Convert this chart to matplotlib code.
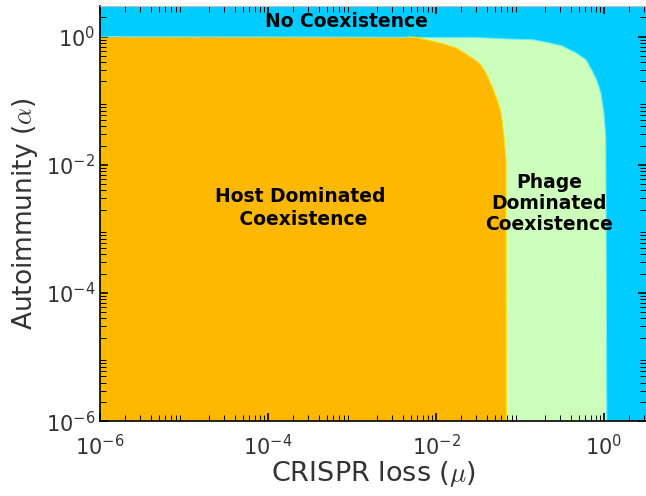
'''
Phase diagram of host / phage coexistence vs CRISPR loss and autoimmunity
'''
import matplotlib
matplotlib.use('Agg')
import matplotlib.pyplot as plt
from matplotlib.ticker import LogLocator, NullFormatter

plt.rcParams['mathtext.fontset'] = 'cm'
plt.rcParams['axes.unicode_minus'] = False

# axis range
mu_min, mu_max = 1e-6, 10**0.5
alpha_min, alpha_max = 1e-6, 10**0.48

# boundary host dominated / phage dominated
host_mu = [1e-6, 4.8e-3, 6.3e-3, 8.3e-3, 1.19e-2, 1.74e-2, 2.48e-2, 3.26e-2,
           3.94e-2, 4.65e-2, 5.33e-2, 5.95e-2, 6.45e-2, 6.8e-2, 6.85e-2]
host_alpha = [1.0, 1.0, 0.955, 0.875, 0.78, 0.67, 0.50, 0.39,
              0.27, 0.166, 0.104, 0.065, 0.027, 0.012, 1e-6]

# boundary phage dominated / no coexistence
phage_mu = [1e-6, 0.03, 0.074, 0.139, 0.221, 0.315, 0.462, 0.608,
            0.716, 0.82, 0.916, 0.995, 1.05, 1.08]
phage_alpha = [1.0, 0.97, 0.92, 0.90, 0.805, 0.72, 0.56, 0.44,
               0.30, 0.21, 0.133, 0.065, 0.027, 1e-6]

c_none = '#00CCFF'
c_phage = '#CCFFBB'
c_host = '#FFB800'

fig = plt.figure(figsize=(6.46, 4.96), dpi=100)
ax = fig.add_axes([0.155, 0.151, 0.845, 0.837])
ax.set_facecolor(c_none)
ax.set_xscale('log'); ax.set_yscale('log')

ax.fill(phage_mu + [1e-6], phage_alpha + [1e-6], color=c_phage, lw=0)
ax.plot(phage_mu, phage_alpha, color='#66EEFF', lw=0.8)
ax.fill(host_mu + [1e-6], host_alpha + [1e-6], color=c_host, lw=0)
ax.plot(host_mu[1:], host_alpha[1:], color='#FFE000', lw=0.8)

ax.set_xlim(mu_min, mu_max); ax.set_ylim(alpha_min, alpha_max)

for a in (ax.xaxis, ax.yaxis):
    a.set_major_locator(LogLocator(base=10, numticks=20))
    a.set_minor_locator(LogLocator(base=10, subs=range(2, 10), numticks=20))
    a.set_minor_formatter(NullFormatter())
ax.set_xticks([1e-6, 1e-4, 1e-2, 1e0])
ax.set_yticks([1e-6, 1e-4, 1e-2, 1e0])
ax.tick_params(which='both', direction='in', top=True, right=True,
               colors='black', labelcolor='#333333', labelsize=15)
ax.tick_params(which='major', length=6, width=1.2)
ax.tick_params(which='minor', length=4, width=0.7)
ax.tick_params(axis='x', which='major', pad=9)
ax.spines['left'].set_linewidth(1.2)
ax.spines['bottom'].set_linewidth(1.2)
ax.spines['top'].set_color('#BBBBBB')
ax.spines['right'].set_color('#BBBBBB')

ax.set_xlabel(r'CRISPR loss ($\mu$)', fontsize=19.5, color='#333333', labelpad=0)
ax.set_ylabel(r'Autoimmunity ($\alpha$)', fontsize=19, color='#333333', labelpad=4)

ax.text(8.5e-4, 1.7, 'No Coexistence', fontsize=13.5, fontweight='bold',
        ha='center', va='center')
ax.text(2.4e-4, 2.1e-3, 'Host Dominated\n Coexistence', fontsize=13.5,
        fontweight='bold', ha='center', va='center', linespacing=1.25)
ax.text(0.22, 2.5e-3, 'Phage\nDominated\nCoexistence', fontsize=13.5,
        fontweight='bold', ha='center', va='center', linespacing=1.15)

fig.savefig('out.png', dpi=100)
